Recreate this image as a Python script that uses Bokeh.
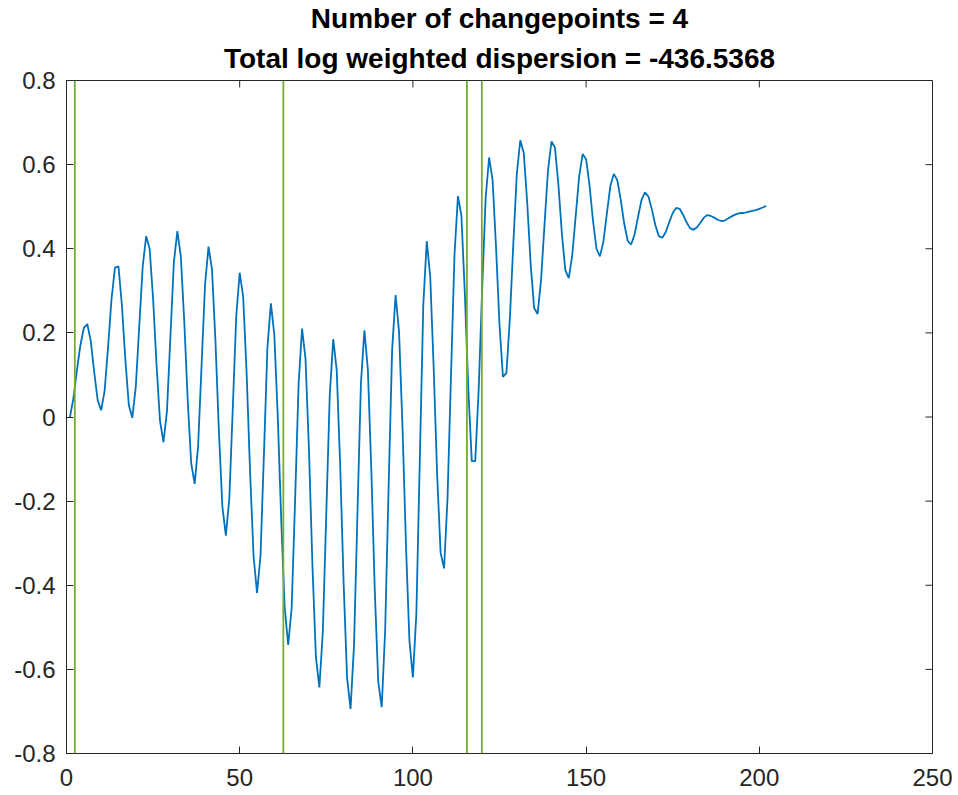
from bokeh.plotting import figure
from bokeh.models import FixedTicker, Span, Title, Range1d
from bokeh.embed import file_html
from bokeh.resources import INLINE

# ---- data ----
signal = [
    0.000, 0.045, 0.110, 0.170, 0.212, 0.221, 0.181, 0.107, 0.040, 0.016,
    0.062, 0.166, 0.281, 0.355, 0.358, 0.265, 0.135, 0.028, -0.002, 0.072,
    0.215, 0.358, 0.430, 0.400, 0.281, 0.123, -0.010, -0.060, 0.014, 0.191,
    0.368, 0.442, 0.382, 0.227, 0.038, -0.110, -0.159, -0.068, 0.124, 0.316,
    0.405, 0.351, 0.181, -0.035, -0.213, -0.282, -0.194, 0.020, 0.240, 0.343,
    0.286, 0.104, -0.131, -0.330, -0.418, -0.331, -0.088, 0.165, 0.270, 0.195,
    -0.001, -0.248, -0.454, -0.542, -0.454, -0.196, 0.078, 0.210, 0.138, -0.080,
    -0.353, -0.571, -0.643, -0.510, -0.228, 0.053, 0.185, 0.112, -0.113, -0.395,
    -0.620, -0.694, -0.543, -0.227, 0.080, 0.206, 0.113, -0.126, -0.414, -0.630,
    -0.690, -0.505, -0.163, 0.159, 0.290, 0.203, -0.024, -0.305, -0.532, -0.619,
    -0.467, -0.100, 0.266, 0.418, 0.334, 0.117, -0.138, -0.323, -0.360, -0.192,
    0.099, 0.384, 0.525, 0.479, 0.293, 0.066, -0.105, -0.105, 0.067, 0.305,
    0.521, 0.617, 0.564, 0.404, 0.219, 0.095, 0.105, 0.235, 0.414, 0.578,
    0.658, 0.628, 0.510, 0.363, 0.259, 0.245, 0.326, 0.458, 0.586, 0.655,
    0.641, 0.553, 0.437, 0.349, 0.330, 0.384, 0.478, 0.572, 0.625, 0.613,
    0.550, 0.466, 0.400, 0.382, 0.417, 0.484, 0.549, 0.578, 0.563, 0.517,
    0.460, 0.419, 0.410, 0.434, 0.476, 0.516, 0.534, 0.524, 0.493, 0.456,
    0.430, 0.426, 0.440, 0.463, 0.485, 0.497, 0.495, 0.481, 0.463, 0.449,
    0.445, 0.451, 0.462, 0.474, 0.480, 0.478, 0.474, 0.469, 0.466, 0.467,
    0.472, 0.477, 0.481, 0.484, 0.485, 0.486, 0.488, 0.490, 0.492, 0.495,
    0.498, 0.502,
]
sample_index = list(range(1, len(signal) + 1))
changepoints = [2.4, 62.6, 115.6, 119.9]

x_ticks = [0, 50, 100, 150, 200, 250]
x_tick_labels = ["0", "50", "100", "150", "200", "250"]
y_ticks = [-0.8, -0.6, -0.4, -0.2, 0, 0.2, 0.4, 0.6, 0.8]
y_tick_labels = ["-0.8", "-0.6", "-0.4", "-0.2", "0", "0.2", "0.4", "0.6", "0.8"]
title_lines = ["Number of changepoints = 4",
               "Total log weighted dispersion = -436.5368"]

# ---- styling ----
AX = "#262626"
BLUE = "#0072BD"
GREEN = "#77AC30"
FONT = "Liberation Sans"
X_MIN, X_MAX, Y_MIN, Y_MAX = 0, 250, -0.8, 0.8
FRAME_W, FRAME_H = 866, 673
TICK_PX = 7

p = figure(frame_width=FRAME_W, frame_height=FRAME_H,
           x_range=Range1d(X_MIN, X_MAX), y_range=Range1d(Y_MIN, Y_MAX),
           output_backend="svg", toolbar_location=None,
           min_border_left=66, min_border_right=20,
           min_border_top=79, min_border_bottom=42)
p.xgrid.visible = False
p.ygrid.visible = False
p.outline_line_color = AX
p.background_fill_color = "white"
p.border_fill_color = "white"

for ax in (p.xaxis[0], p.yaxis[0]):
    ax.axis_line_color = AX
    ax.major_tick_line_color = AX
    ax.minor_tick_line_color = None
    ax.major_tick_in = TICK_PX
    ax.major_tick_out = 0
    ax.major_label_text_font = FONT
    ax.major_label_text_color = AX
    ax.major_label_text_font_size = "24px"

p.xaxis.ticker = FixedTicker(ticks=x_ticks)
p.xaxis.major_label_overrides = dict(zip(x_ticks, x_tick_labels))
p.yaxis.ticker = FixedTicker(ticks=y_ticks)
p.yaxis.major_label_overrides = dict(zip(y_ticks, y_tick_labels))
p.xaxis.major_label_standoff = 15
p.yaxis.major_label_standoff = 11

# mirrored box ticks on top and right edges (MATLAB "box on")
dy = TICK_PX * (Y_MAX - Y_MIN) / FRAME_H
dx = TICK_PX * (X_MAX - X_MIN) / FRAME_W
p.segment(x0=x_ticks, y0=[Y_MAX] * len(x_ticks),
          x1=x_ticks, y1=[Y_MAX - dy] * len(x_ticks),
          line_color=AX, line_width=1)
p.segment(x0=[X_MAX] * len(y_ticks), y0=y_ticks,
          x1=[X_MAX - dx] * len(y_ticks), y1=y_ticks,
          line_color=AX, line_width=1)

standoffs = [14, 0]
for line, so in zip(reversed(title_lines), standoffs):
    t = Title(text=line, align="center", text_font=FONT,
              text_font_size="28px", text_font_style="bold",
              text_color="black", standoff=so)
    p.add_layout(t, "above")

for cp in changepoints:
    p.add_layout(Span(location=cp, dimension="height",
                      line_color=GREEN, line_width=1.8))

p.line(sample_index, signal, line_color=BLUE, line_width=1.8)

open("out.html", "w").write(file_html(p, INLINE))
